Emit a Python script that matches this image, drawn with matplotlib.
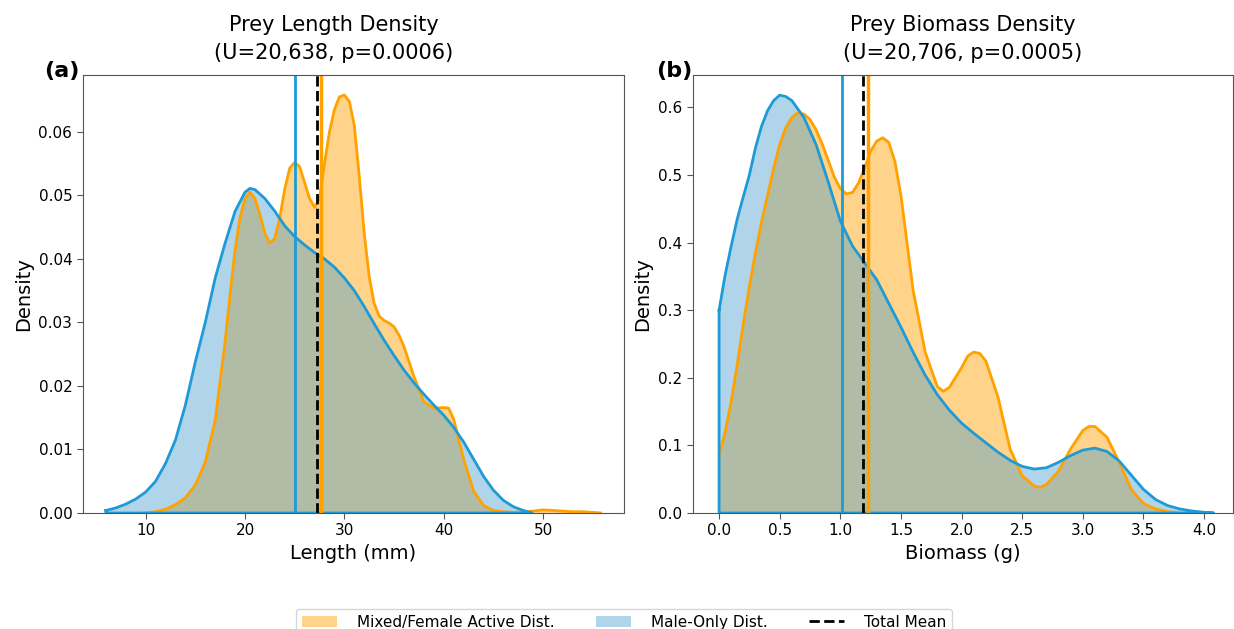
import matplotlib
matplotlib.use("Agg")
import matplotlib.pyplot as plt
from matplotlib.patches import Patch
from matplotlib.lines import Line2D

# colours
ORANGE = "#FFA200"
BLUE = "#1E9BD7"
ORANGE_FILL = "#FFA000"
BLUE_FILL = "#439DCF"

# --- panel (a): prey length density curves ---
len_female_x = [10, 11, 12, 13, 14, 15, 16, 17, 18, 18.5, 19, 19.5, 20, 20.5, 21, 21.5,
                22, 22.5, 23, 23.5, 24, 24.5, 25, 25.5, 26, 26.5, 27, 27.5, 28, 28.5,
                29, 29.5, 30, 30.5, 31, 31.5, 32, 32.5, 33, 33.5, 34, 34.5, 35, 35.5,
                36, 37, 38, 39, 40, 40.5, 41, 42, 43, 44, 45, 46, 47, 48, 49, 50, 51,
                52, 53, 54, 55, 55.8]
len_female_y = [0.0, 0.0002, 0.0006, 0.0013, 0.0024, 0.0044, 0.0080, 0.0146, 0.0270, 0.0345,
                0.0414, 0.0465, 0.0495, 0.0505, 0.0495, 0.0470, 0.0440, 0.0425, 0.0432, 0.0465,
                0.0510, 0.0543, 0.0552, 0.0545, 0.0520, 0.0495, 0.0481, 0.0495, 0.0550, 0.0600,
                0.0635, 0.0655, 0.0658, 0.0648, 0.0610, 0.0530, 0.0440, 0.0372, 0.0330, 0.0310,
                0.0303, 0.0299, 0.0293, 0.0280, 0.0262, 0.0215, 0.0175, 0.0165, 0.0166, 0.0165,
                0.0148, 0.0085, 0.0035, 0.0012, 0.0004, 0.0002, 0.0001, 0.0002, 0.0003, 0.0005,
                0.0004, 0.0003, 0.0002, 0.0002, 0.0001, 0.0]

len_male_x = [6.0, 7, 8, 9, 10, 11, 12, 13, 14, 15, 16, 17, 18, 19, 20, 20.5, 21, 22, 23, 24,
              25, 26, 27, 28, 29, 30, 31, 32, 33, 34, 35, 36, 37, 38, 39, 40, 41, 42, 43, 44,
              45, 46, 47, 48, 48.9]
len_male_y = [0.0004, 0.0008, 0.0014, 0.0022, 0.0033, 0.0050, 0.0078, 0.0115, 0.0170, 0.0238,
              0.0300, 0.0370, 0.0425, 0.0475, 0.0505, 0.0511, 0.0509, 0.0495, 0.0475, 0.0452,
              0.0435, 0.0422, 0.0410, 0.0400, 0.0387, 0.0370, 0.0350, 0.0325, 0.0298, 0.0272,
              0.0248, 0.0225, 0.0205, 0.0187, 0.0170, 0.0154, 0.0135, 0.0112, 0.0085, 0.0058,
              0.0036, 0.0020, 0.0010, 0.0004, 0.0]

len_means = {"female": 27.62, "male": 25.05, "total": 27.28}

# --- panel (b): prey biomass density curves ---
bio_female_x = [0.0, 0.05, 0.1, 0.15, 0.2, 0.25, 0.3, 0.35, 0.4, 0.45, 0.5, 0.55, 0.6, 0.65,
                0.7, 0.75, 0.8, 0.85, 0.9, 0.95, 1.0, 1.05, 1.1, 1.15, 1.2, 1.25, 1.3, 1.35,
                1.4, 1.45, 1.5, 1.55, 1.6, 1.7, 1.8, 1.85, 1.9, 2.0, 2.05, 2.1, 2.15, 2.2,
                2.3, 2.4, 2.5, 2.6, 2.65, 2.7, 2.8, 2.9, 3.0, 3.05, 3.1, 3.2, 3.3, 3.4, 3.5,
                3.6, 3.7, 3.8]
bio_female_y = [0.085, 0.12, 0.165, 0.22, 0.28, 0.335, 0.385, 0.43, 0.47, 0.51, 0.545, 0.57,
                0.585, 0.592, 0.590, 0.582, 0.567, 0.546, 0.522, 0.497, 0.480, 0.472, 0.474,
                0.488, 0.510, 0.535, 0.550, 0.555, 0.548, 0.520, 0.470, 0.400, 0.330, 0.238,
                0.187, 0.180, 0.186, 0.215, 0.232, 0.238, 0.236, 0.225, 0.172, 0.095, 0.055,
                0.040, 0.038, 0.042, 0.062, 0.095, 0.122, 0.128, 0.128, 0.112, 0.075, 0.035,
                0.014, 0.006, 0.002, 0.0]

bio_male_x = [0.0, 0.05, 0.1, 0.15, 0.2, 0.25, 0.3, 0.35, 0.4, 0.45, 0.5, 0.55, 0.6, 0.7, 0.8,
              0.9, 1.0, 1.1, 1.2, 1.3, 1.4, 1.5, 1.6, 1.7, 1.8, 1.9, 2.0, 2.1, 2.2, 2.3, 2.4,
              2.5, 2.6, 2.7, 2.8, 2.9, 3.0, 3.1, 3.2, 3.3, 3.4, 3.5, 3.6, 3.7, 3.8, 3.9, 4.0,
              4.08]
bio_male_y = [0.300, 0.352, 0.395, 0.435, 0.468, 0.500, 0.540, 0.572, 0.595, 0.610, 0.618,
              0.616, 0.610, 0.585, 0.545, 0.490, 0.432, 0.395, 0.370, 0.345, 0.310, 0.275,
              0.238, 0.204, 0.175, 0.152, 0.133, 0.118, 0.104, 0.090, 0.078, 0.069, 0.065,
              0.067, 0.075, 0.085, 0.093, 0.096, 0.091, 0.077, 0.056, 0.035, 0.020, 0.011,
              0.006, 0.003, 0.001, 0.0]

bio_means = {"female": 1.225, "male": 1.01, "total": 1.185}

plt.rcParams["font.family"] = ["DejaVu Sans"]

fig = plt.figure(figsize=(12.34, 6.29), dpi=100)
ax1 = fig.add_axes([0.0670, 0.1844, 0.4387, 0.6959])
ax2 = fig.add_axes([0.5613, 0.1844, 0.4378, 0.6959])


def draw_panel(ax, fx, fy, mx, my, means):
    ax.fill_between(fx, fy, 0, facecolor=ORANGE_FILL, alpha=0.46, lw=0)
    ax.plot(fx, fy, color=ORANGE, lw=2)
    ax.fill_between(mx, my, 0, facecolor=BLUE_FILL, alpha=0.42, lw=0)
    ax.plot(mx + [mx[-1], mx[0], mx[0]], my + [0, 0, my[0]], color=BLUE, lw=2)
    ax.axvline(means["male"], color=BLUE, lw=2)
    ax.axvline(means["total"], color="black", lw=2, ls="--")
    ax.axvline(means["female"], color=ORANGE, lw=2.5)
    for s in ax.spines.values():
        s.set_color("#555555")
    ax.tick_params(labelsize=11, color="#555555", length=4)


draw_panel(ax1, len_female_x, len_female_y, len_male_x, len_male_y, len_means)
ax1.set_xlim(3.66, 58.15)
ax1.set_ylim(0, 0.0689)
ax1.set_xticks([10, 20, 30, 40, 50])
ax1.set_yticks([0, 0.01, 0.02, 0.03, 0.04, 0.05, 0.06])
ax1.set_yticklabels(["0.00", "0.01", "0.02", "0.03", "0.04", "0.05", "0.06"])
ax1.set_xlabel("Length (mm)", fontsize=14)
ax1.set_ylabel("Density", fontsize=14)
ax1.set_title("Prey Length Density\n(U=20,638, p=0.0006)", fontsize=15, pad=12, x=0.464,
              linespacing=1.45)
ax1.text(-0.006, 1.01, "(a)", transform=ax1.transAxes, ha="right", va="center",
         fontsize=16, fontweight="bold")

draw_panel(ax2, bio_female_x, bio_female_y, bio_male_x, bio_male_y, bio_means)
ax2.set_xlim(-0.218, 4.238)
ax2.set_ylim(0, 0.6474)
ax2.set_xticks([0.0, 0.5, 1.0, 1.5, 2.0, 2.5, 3.0, 3.5, 4.0])
ax2.set_yticks([0.0, 0.1, 0.2, 0.3, 0.4, 0.5, 0.6])
ax2.set_xlabel("Biomass (g)", fontsize=14)
ax2.set_ylabel("Density", fontsize=14)
ax2.set_title("Prey Biomass Density\n(U=20,706, p=0.0005)", fontsize=15, pad=12,
              linespacing=1.45)
ax2.text(0.0, 1.01, "(b)", transform=ax2.transAxes, ha="right", va="center",
         fontsize=16, fontweight="bold")

handles = [
    Patch(facecolor=ORANGE_FILL, alpha=0.46, edgecolor="none", label="Mixed/Female Active Dist."),
    Patch(facecolor=BLUE_FILL, alpha=0.42, edgecolor="none", label="Male-Only Dist."),
    Line2D([0], [0], color="black", lw=2, ls="--", label="Total Mean"),
]
fig.legend(handles=handles, loc="upper center", bbox_to_anchor=(0.5057, 0.0445), ncol=3,
           fontsize=11, frameon=True, edgecolor="#cccccc", handlelength=2.3,
           handletextpad=1.3, columnspacing=2.7)

fig.savefig("out.png", dpi=100)
